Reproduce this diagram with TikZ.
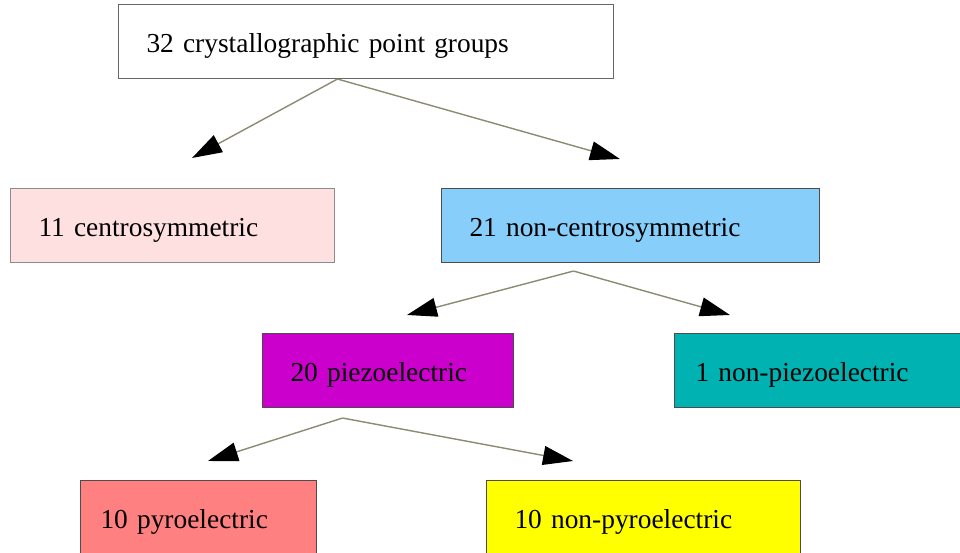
\documentclass[tikz,border=0pt]{standalone}
\usepackage{fontspec}
\setmainfont{Liberation Serif}
\usetikzlibrary{arrows.meta}
\definecolor{centrofill}{RGB}{255,224,224}
\definecolor{noncentrofill}{RGB}{135,206,250}
\definecolor{piezofill}{RGB}{204,0,204}
\definecolor{nonpiezofill}{RGB}{0,178,178}
\definecolor{pyrofill}{RGB}{255,128,128}
\definecolor{nonpyrofill}{RGB}{255,255,0}
\definecolor{edgegray}{RGB}{140,138,115}
\begin{document}
\begin{tikzpicture}[x=0.02cm,y=-0.02cm,
	box/.style={draw=black!70,line width=0.6pt,anchor=north west,minimum height=1.48cm,align=left,inner xsep=0.56cm,inner ysep=0pt,text height=13pt,text depth=0pt,font=\fontsize{15.6}{18}\selectfont},
	edge/.style={draw=edgegray,line width=0.8pt,-{Triangle[length=0.6cm,width=0.38cm,color=black,fill=black]}}]
	\clip (0,0) rectangle (960,553);
	\node[box,draw=black!60,text width=8.78cm] (groups) at (118,4) {32 crystallographic point groups};
	\node[box,fill=centrofill,draw=black!45,text width=5.36cm] (centro) at (10,188) {11 centrosymmetric};
	\node[box,fill=noncentrofill,text width=6.44cm] (noncentro) at (441,188) {21 non-centrosymmetric};
	\node[box,fill=piezofill,text width=3.9cm] (piezo) at (262,333) {20 piezoelectric};
	\node[box,fill=nonpiezofill,inner xsep=0.42cm,text width=5.28cm] (nonpiezo) at (674,333) {1 non-piezoelectric};
	\node[box,fill=pyrofill,inner xsep=0.4cm,text width=3.92cm] (pyro) at (80,480) {10 pyroelectric};
	\node[box,fill=nonpyrofill,text width=5.16cm] (nonpyro) at (486,480) {10 non-pyroelectric};
	% arrow ends
	\coordinate (groups-out) at ([xshift=-0.57cm]groups.south);
	\coordinate (noncentro-out) at ([xshift=-1.14cm,yshift=-0.16cm]noncentro.south);
	\coordinate (piezo-out) at ([xshift=-0.91cm,yshift=-0.2cm]piezo.south);
	\coordinate (centro-in) at (192,158);
	\coordinate (noncentro-in) at (620,159);
	\coordinate (piezo-in) at (407,315);
	\coordinate (nonpiezo-in) at (730,315);
	\coordinate (pyro-in) at (208,461);
	\coordinate (nonpyro-in) at (573,461);
	\draw[edge] (groups-out) -- (centro-in);
	\draw[edge] (groups-out) -- (noncentro-in);
	\draw[edge] (noncentro-out) -- (piezo-in);
	\draw[edge] (noncentro-out) -- (nonpiezo-in);
	\draw[edge] (piezo-out) -- (pyro-in);
	\draw[edge] (piezo-out) -- (nonpyro-in);
\end{tikzpicture}
\end{document}
